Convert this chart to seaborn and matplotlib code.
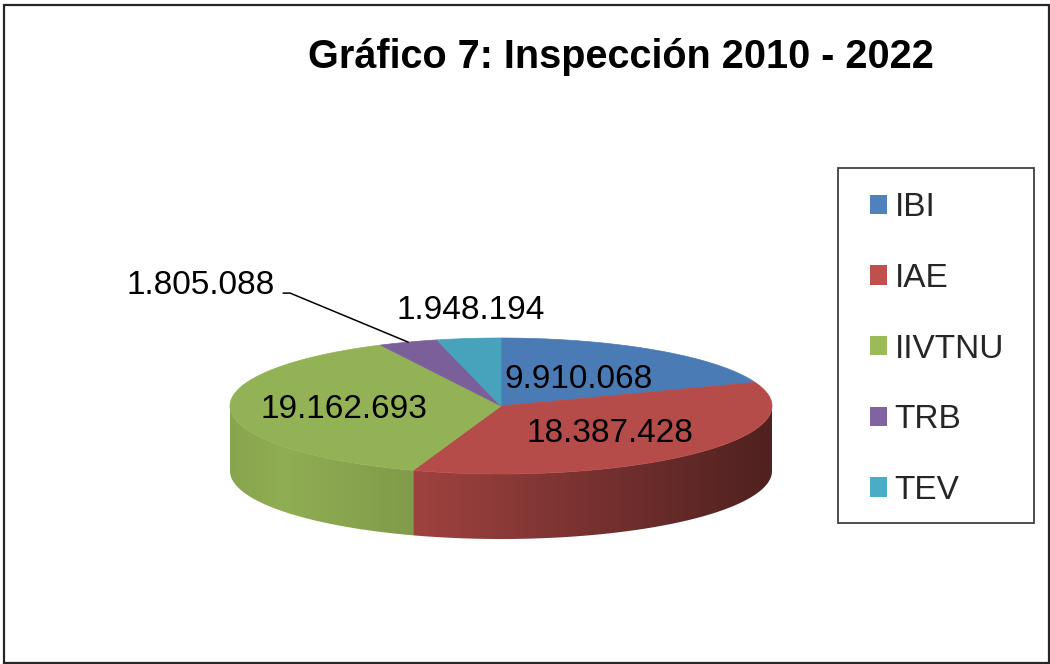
import numpy as np
import matplotlib
matplotlib.use("Agg")
import matplotlib.pyplot as plt
import seaborn as sns
from matplotlib.patches import Polygon, Rectangle, Patch
from matplotlib.colors import to_rgb

# ---- data ----
categories = ["IBI", "IAE", "IIVTNU", "TRB", "TEV"]
values = [9910068, 18387428, 19162693, 1805088, 1948194]
value_labels = ["9.910.068", "18.387.428", "19.162.693", "1.805.088", "1.948.194"]
colors = ["#4F81BD", "#C0504D", "#9BBB59", "#8064A2", "#4BACC6"]
title = "Gráfico 7: Inspección 2010 - 2022"

sns.set_theme(style="white")
plt.rcParams["font.family"] = ["Liberation Sans", "DejaVu Sans"]

fig = plt.figure(figsize=(10.5, 6.64), dpi=100)
ax = fig.add_axes([0, 0, 1, 1])
ax.axis("off")

# tilted pie geometry (canvas pixels)
CX, CY, RX, RY, DEPTH = 501, 406, 271, 68, 65


def pt(theta_deg, r=1.0, dz=0.0):
    t = np.deg2rad(theta_deg)
    return CX + r * RX * np.cos(t), CY - r * RY * np.sin(t) + dz


def side_shade(xn):
    # light from the front-left; the right-hand rim falls into shadow
    return np.interp(xn, [-1.0, -0.8, -0.33, 1.0], [0.88, 0.93, 0.83, 0.41])


fracs = np.asarray(values, dtype=float) / np.sum(values)
sweeps = fracs * 360.0
ends = 90.0 - np.cumsum(sweeps)
starts = ends + sweeps

# side walls: only the front half (sin < 0) is visible
xs_grid = np.arange(CX - RX - 2, CX + RX + 3)
for s, e, c in zip(starts, ends, colors):
    th = np.linspace(e, s, 2000)
    vis = np.sin(np.deg2rad(th)) < 0
    if not vis.any():
        continue
    th = th[vis]
    tx, ty = pt(th)
    bx, by = pt(th[::-1], dz=DEPTH)
    verts = list(zip(tx, ty)) + list(zip(bx, by))
    clip = Polygon(verts, closed=True, facecolor="none", edgecolor="none")
    ax.add_patch(clip)
    base = np.array(to_rgb(c))
    xn = np.clip((xs_grid - CX) / RX, -1, 1)
    row = np.clip(base[None, :] * side_shade(xn)[:, None], 0, 1)
    img = np.repeat(row[None, :, :], 2, axis=0)
    im = ax.imshow(img, extent=(xs_grid[0], xs_grid[-1], CY + RY + DEPTH + 4, CY - RY - 4),
                   origin="upper", aspect="auto", interpolation="bilinear", zorder=1)
    im.set_clip_path(clip)

# top faces
for s, e, c in zip(starts, ends, colors):
    base = np.array(to_rgb(c)) * 0.95
    th = np.linspace(s, e, 200)
    xs, ys = pt(th)
    verts = [(CX, CY)] + list(zip(xs, ys))
    ax.add_patch(Polygon(verts, closed=True, facecolor=base, edgecolor=base,
                         linewidth=0.5, zorder=3))

ax.set_xlim(0, 1050)
ax.set_ylim(664, 0)

# value labels
mids = 0.5 * (starts + ends)
label_kw = dict(fontsize=24, color="black", zorder=5)
inside_r = {0: 0.5, 1: 0.56, 2: 0.58}
for i, r in inside_r.items():
    x, y = pt(mids[i], r)
    ax.text(x, y + 1, value_labels[i], ha="center", va="center", **label_kw)

# TEV: above its rim
ex, ey = pt(mids[4])
ax.text(ex + 2, ey - 28, value_labels[4], ha="center", va="center", **label_kw)

# TRB: leader line to the left
ex, ey = pt(mids[3])
elbow = (ex - 118, ey - 49)
tail = (elbow[0] - 7, elbow[1])
ax.plot([ex, elbow[0], tail[0]], [ey, elbow[1], tail[1]], color="black",
        linewidth=1.1, zorder=4)
ax.text(tail[0] - 8, elbow[1] - 8, value_labels[3], ha="right", va="center", **label_kw)

# title
ax.text(621, 57, title, ha="center", va="center", fontsize=28.5,
        fontweight="bold", color="black")

# legend
handles = [Patch(facecolor=c, edgecolor="none") for c in colors]
fig.legend(handles, categories, loc="center left",
           bbox_to_anchor=(870 / 1050, 1 - 349 / 664), bbox_transform=fig.transFigure,
           frameon=False, fontsize=24, handlelength=0.52, handleheight=0.52,
           handletextpad=0.22, labelspacing=1.19, borderpad=0, borderaxespad=0)
ax.add_patch(Rectangle((838, 168), 196, 355, facecolor="none",
                       edgecolor="#404040", linewidth=1.3, zorder=6))

# chart area border
ax.add_patch(Rectangle((4, 5), 1045, 658, facecolor="none",
                       edgecolor="#262626", linewidth=1.6, zorder=6))

fig.savefig("out.png", dpi=100)
